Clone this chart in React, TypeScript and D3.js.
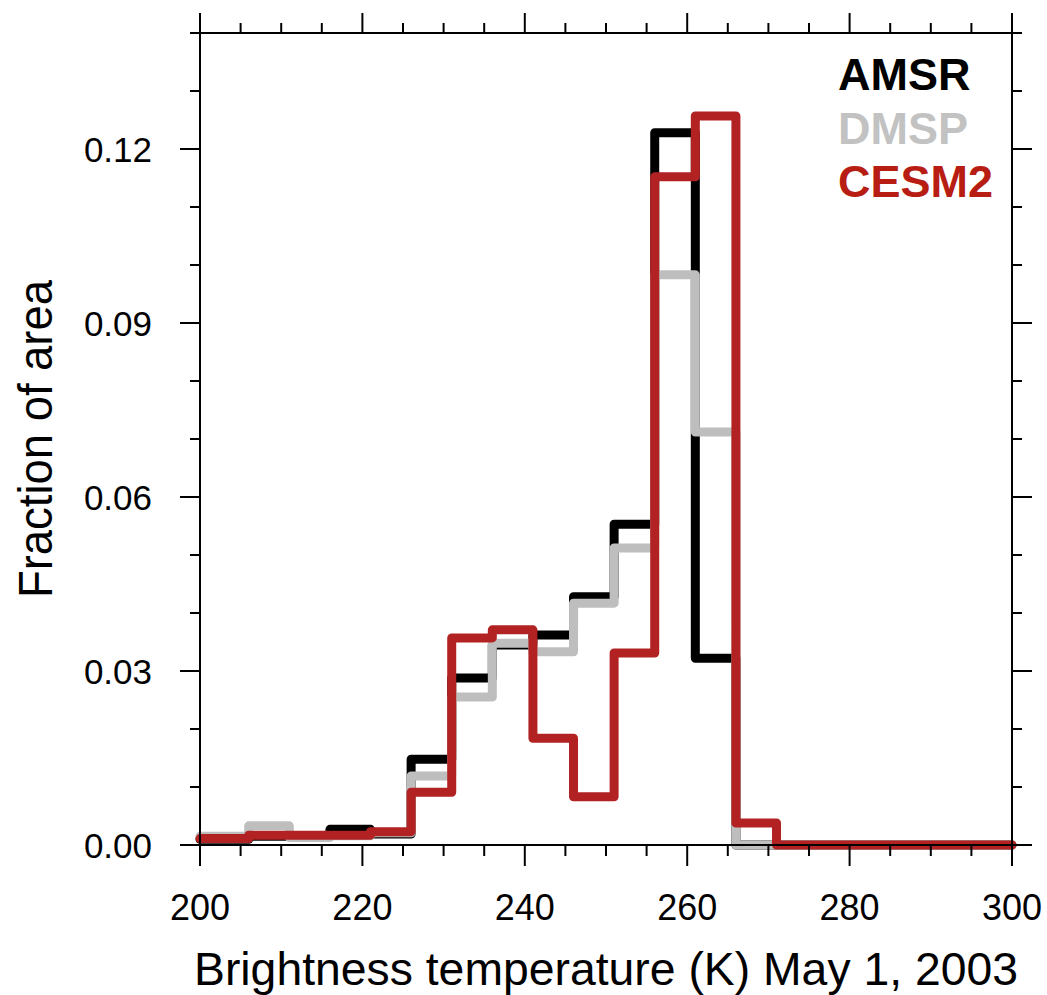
import * as d3 from "d3";

// bin edges (K) and fraction of area per bin
const binEdges = [200, 206, 211, 216, 221, 226, 231, 236, 241, 246, 251, 256, 261, 266, 271, 276, 281, 286, 291, 296, 300];

const amsr = [0.001, 0.0015, 0.0015, 0.0027, 0.0019, 0.0148, 0.0288, 0.0345, 0.0362, 0.0428, 0.0553, 0.1228, 0.0322, 0, 0, 0, 0, 0, 0, 0];
const dmsp = [0.0015, 0.0033, 0.0013, 0.0016, 0.0021, 0.0119, 0.0255, 0.0348, 0.0333, 0.0417, 0.0512, 0.0983, 0.0712, 0, 0, 0, 0, 0, 0, 0];
const cesm2 = [0.0011, 0.0017, 0.0017, 0.0017, 0.0023, 0.0091, 0.0357, 0.0371, 0.0184, 0.0083, 0.0331, 0.1152, 0.1257, 0.0038, 0, 0, 0, 0, 0, 0];

const seriesNames = ["AMSR", "DMSP", "CESM2"];
const seriesData = [amsr, dmsp, cesm2];
const lineColors = ["#000000", "#bebebe", "#b22222"];
const textColors = ["#000000", "#c2c2c2", "#b81d13"];

const xMajor = [200, 220, 240, 260, 280, 300];
const yMajor = [0, 0.03, 0.06, 0.09, 0.12];

const W = 1047;
const H = 995;
const left = 200;
const right = 1012;
const top = 33;
const bottom = 845;
const font = "'Liberation Sans', Arial, Helvetica, sans-serif";

export default function App() {
  const x = d3.scaleLinear().domain([200, 300]).range([left, right]);
  const y = d3.scaleLinear().domain([0, 0.14]).range([bottom, top]);

  const xMinor = d3.range(200, 301, 5).filter((v) => v % 20 !== 0);
  const yMinor = d3.range(0, 15).map((i) => i / 100).filter((v, i) => i % 3 !== 0);

  const step = d3
    .line<[number, number]>()
    .x((d) => x(d[0]))
    .y((d) => y(d[1]))
    .curve(d3.curveStepAfter);

  const pts = (vals: number[]): [number, number][] => {
    const p = vals.map((v, i) => [binEdges[i], v] as [number, number]);
    p.push([binEdges[binEdges.length - 1], vals[vals.length - 1]]);
    return p;
  };

  return (
    <svg
      width={W}
      height={H}
      style={{ position: "absolute", left: 0, top: 0, background: "#fff" }}
    >
      {/* series */}
      {seriesData.map((s, i) => (
        <path
          key={seriesNames[i]}
          d={step(pts(s)) ?? ""}
          fill="none"
          stroke={lineColors[i]}
          strokeWidth={9}
          strokeLinejoin="round"
          strokeLinecap="round"
        />
      ))}

      {/* frame */}
      <rect
        x={left}
        y={top}
        width={right - left}
        height={bottom - top}
        fill="none"
        stroke="#000"
        strokeWidth={2}
      />

      {/* x ticks, bottom and top, outward */}
      {xMajor.map((v) => (
        <g key={"xM" + v} stroke="#000" strokeWidth={2}>
          <line x1={x(v)} x2={x(v)} y1={bottom} y2={bottom + 21} />
          <line x1={x(v)} x2={x(v)} y1={top} y2={top - 20} />
        </g>
      ))}
      {xMinor.map((v) => (
        <g key={"xm" + v} stroke="#000" strokeWidth={2}>
          <line x1={x(v)} x2={x(v)} y1={bottom} y2={bottom + 11} />
          <line x1={x(v)} x2={x(v)} y1={top} y2={top - 10} />
        </g>
      ))}

      {/* y ticks, left and right, outward */}
      {yMajor.map((v) => (
        <g key={"yM" + v} stroke="#000" strokeWidth={2}>
          <line x1={left} x2={left - 20} y1={y(v)} y2={y(v)} />
          <line x1={right} x2={right + 20} y1={y(v)} y2={y(v)} />
        </g>
      ))}
      {yMinor.map((v) => (
        <g key={"ym" + v} stroke="#000" strokeWidth={2}>
          <line x1={left} x2={left - 10} y1={y(v)} y2={y(v)} />
          <line x1={right} x2={right + 10} y1={y(v)} y2={y(v)} />
        </g>
      ))}

      {/* tick labels */}
      {xMajor.map((v) => (
        <text
          key={"xl" + v}
          x={x(v)}
          y={920}
          textAnchor="middle"
          fontFamily={font}
          fontSize={36}
        >
          {v}
        </text>
      ))}
      {yMajor.map((v) => (
        <text
          key={"yl" + v}
          x={152}
          y={y(v) + 12.5}
          textAnchor="end"
          fontFamily={font}
          fontSize={35}
        >
          {v.toFixed(2)}
        </text>
      ))}

      {/* axis titles */}
      <text
        x={(left + right) / 2}
        y={985}
        textAnchor="middle"
        fontFamily={font}
        fontSize={46}
        textLength={824}
        lengthAdjust="spacingAndGlyphs"
      >
        Brightness temperature (K) May 1, 2003
      </text>
      <text
        transform={`translate(52,${(top + bottom) / 2}) rotate(-90)`}
        textAnchor="middle"
        fontFamily={font}
        fontSize={48}
        textLength={318}
        lengthAdjust="spacingAndGlyphs"
      >
        Fraction of area
      </text>

      {/* legend */}
      {seriesNames.map((n, i) => (
        <text
          key={"lg" + n}
          x={838}
          y={90 + i * 53.5}
          fontFamily={font}
          fontSize={45}
          fontWeight="bold"
          fill={textColors[i]}
        >
          {n}
        </text>
      ))}
    </svg>
  );
}
